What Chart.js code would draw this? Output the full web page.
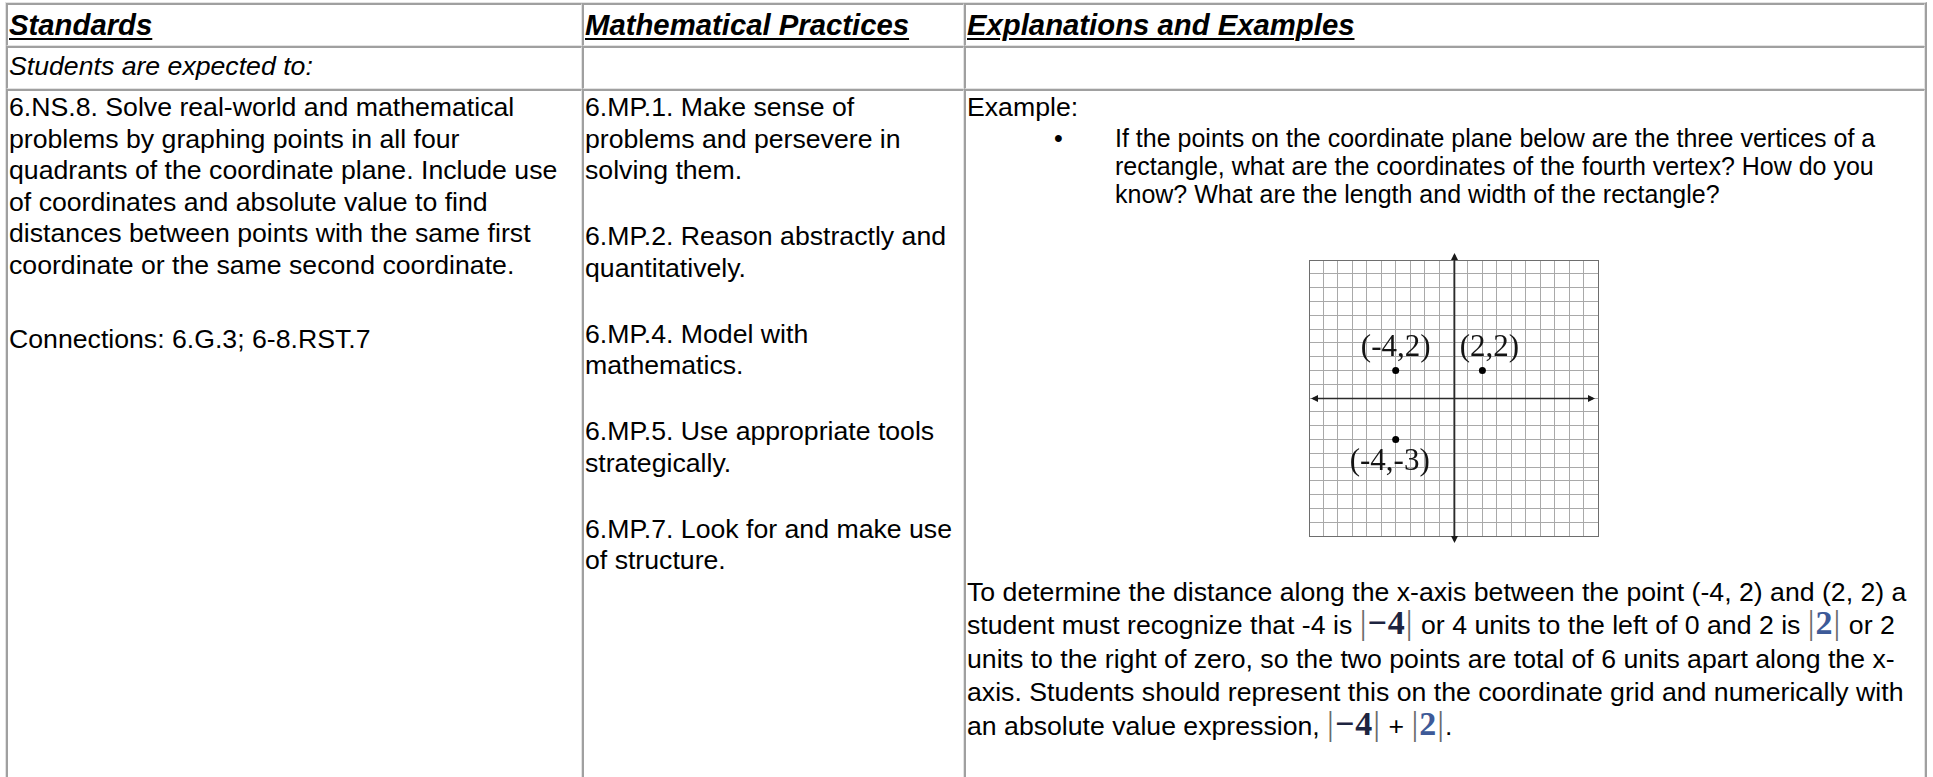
<!DOCTYPE html>
<html>
<head>
<meta charset="utf-8">
<title>6.NS.8 coordinate plane</title>
<script src="https://cdn.jsdelivr.net/npm/chart.js@4.4.1/dist/chart.umd.min.js"></script>
<style>
    body { margin: 0; width: 1933px; height: 777px; overflow: hidden; background: #fff; position: relative;
           font-family: "Liberation Sans", Arial, sans-serif; color: #000; }
    table { position: absolute; left: 5px; top: 2px; width: 1922px; table-layout: fixed;
            border-collapse: separate; border-spacing: 0;
            border-top: 1px solid #e3e3e3; border-left: 1px solid #e3e3e3;
            border-right: 2px solid #a0a0a0; border-bottom: 2px solid #a0a0a0; }
    td { box-sizing: border-box; vertical-align: top; padding: 0 0 0 1px; white-space: nowrap; overflow: hidden;
         border-top: 2px solid #a0a0a0; border-left: 2px solid #a0a0a0;
         border-right: 1px solid #e3e3e3; border-bottom: 1px solid #e3e3e3;
         font-size: 26.67px; line-height: 31.5px; }
    .hd td { height: 43px; padding-top: 3px; font-size: 29.3px; line-height: 33px; font-weight: bold; font-style: italic; }
    .hd span { text-decoration: underline; text-decoration-thickness: 2.3px; text-underline-offset: 3px; }
    .r2 td { height: 43px; padding-top: 3px; font-style: italic; }
    .r3 td { height: 800px; padding-top: 1px; }
    .bullet { position: relative; padding-left: 148px; font-size: 25px; line-height: 28px; }
    .bullet b { position: absolute; left: 87px; top: 0; font-weight: normal; }
    .para { line-height: 33.5px; }
    .abs { font-family: "Liberation Serif", "Times New Roman", serif; font-size: 34px; line-height: 1px;
           color: #6a6a6a; letter-spacing: 1px; }
    .abs em { font-style: normal; font-weight: bold; color: #1d2440; }
    .abs i { font-style: normal; font-weight: bold; color: #3d5a98; }
    #plane { position: absolute; left: 1284px; top: 240px; width: 340px; height: 320px; }
</style>
</head>
<body>
<table>
    <colgroup><col style="width:576px"><col style="width:382px"><col style="width:961px"></colgroup>
    <tr class="hd">
        <td><span>Standards</span></td>
        <td><span>Mathematical Practices</span></td>
        <td><span>Explanations and Examples</span></td>
    </tr>
    <tr class="r2">
        <td>Students are expected to:</td>
        <td></td>
        <td></td>
    </tr>
    <tr class="r3">
        <td>
            <div>6.NS.8. Solve real-world and mathematical</div>
            <div>problems by graphing points in all four</div>
            <div>quadrants of the coordinate plane. Include use</div>
            <div>of coordinates and absolute value to find</div>
            <div>distances between points with the same first</div>
            <div>coordinate or the same second coordinate.</div>
            <div style="height:43px"></div>
            <div>Connections: 6.G.3; 6-8.RST.7</div>
        </td>
        <td>
            <div>6.MP.1. Make sense of</div>
            <div>problems and persevere in</div>
            <div>solving them.</div>
            <div style="height:34.5px"></div>
            <div>6.MP.2. Reason abstractly and</div>
            <div>quantitatively.</div>
            <div style="height:34.5px"></div>
            <div>6.MP.4. Model with</div>
            <div>mathematics.</div>
            <div style="height:34.5px"></div>
            <div>6.MP.5. Use appropriate tools</div>
            <div>strategically.</div>
            <div style="height:34.5px"></div>
            <div>6.MP.7. Look for and make use</div>
            <div>of structure.</div>
        </td>
        <td>
            <div>Example:</div>
            <div class="bullet"><b>&bull;</b>
                If the points on the coordinate plane below are the three vertices of a<br>
                rectangle, what are the coordinates of the fourth vertex? How do you<br>
                know? What are the length and width of the rectangle?
            </div>
            <div style="height:368px"></div>
            <div class="para">
                To determine the distance along the x-axis between the point (-4, 2) and (2, 2) a<br>
                student must recognize that -4 is <span class="abs">|<em>&minus;4</em>|</span> or 4 units to the left of 0 and 2 is <span class="abs">|<i>2</i>|</span> or 2<br>
                units to the right of zero, so the two points are total of 6 units apart along the x-<br>
                axis. Students should represent this on the coordinate grid and numerically with<br>
                an absolute value expression, <span class="abs">|<em>&minus;4</em>|</span> + <span class="abs">|<i>2</i>|</span>.
            </div>
        </td>
    </tr>
</table>

<div id="plane"><canvas id="planeChart" width="340" height="320"></canvas></div>

<script>
    // coordinate plane range
    var xMin = -10, xMax = 10;
    var yMin = -10, yMax = 10;
    var xStep = 1, yStep = 1;

    // the three given vertices
    var pointNames = ['(-4,2)', '(2,2)', '(-4,-3)'];
    var pointX = [-4, 2, -4];
    var pointY = [2, 2, -3];

    // where each name sits relative to its dot (pixels)
    var labelOffsets = [[0, -23], [7, -23], [-6, 22]];

    var points = [];
    for (var i = 0; i < pointX.length; i++) {
        points.push({ x: pointX[i], y: pointY[i] });
    }

    function gridColor(lo, hi) {
        return function (ctx) {
            if (ctx.tick && (ctx.tick.value === lo || ctx.tick.value === hi)) return '#6e6e6e';
            return '#a9a9a9';
        };
    }

    //Draw the two axes with arrow heads
    var axesPlugin = {
        id: 'axes',
        beforeDatasetsDraw: function (chart) {
            var c = chart.ctx, a = chart.chartArea;
            var x0 = Math.round(chart.scales.x.getPixelForValue(0)) + 0.5;
            var y0 = Math.round(chart.scales.y.getPixelForValue(0)) + 0.5;
            c.save();
            c.strokeStyle = '#2b2b2b';
            c.fillStyle = '#1a1a1a';
            c.lineWidth = 1.6;
            c.beginPath();
            c.moveTo(a.left + 4, y0); c.lineTo(a.right - 5, y0);
            c.moveTo(x0, a.top - 5); c.lineTo(x0, a.bottom + 5);
            c.stroke();
            function arrow(tx, ty, dx, dy) {
                c.beginPath();
                c.moveTo(tx, ty);
                c.lineTo(tx - dx * 7 - dy * 3.5, ty - dy * 7 - dx * 3.5);
                c.lineTo(tx - dx * 7 + dy * 3.5, ty - dy * 7 + dx * 3.5);
                c.closePath();
                c.fill();
            }
            arrow(a.left + 2, y0, -1, 0);
            arrow(a.right - 3, y0, 1, 0);
            arrow(x0, a.top - 7, 0, -1);
            arrow(x0, a.bottom + 7, 0, 1);
            c.restore();
        },
        afterDatasetsDraw: function (chart) {
            var c = chart.ctx;
            var meta = chart.getDatasetMeta(0);
            c.save();
            c.font = '31px "Liberation Serif", "Times New Roman", serif';
            c.fillStyle = '#141414';
            c.textAlign = 'center';
            c.textBaseline = 'middle';
            meta.data.forEach(function (el, idx) {
                c.fillText(pointNames[idx], el.x + labelOffsets[idx][0], el.y + labelOffsets[idx][1]);
            });
            c.restore();
        }
    };

    var planeChart = new Chart(document.getElementById('planeChart'), {
        type: 'scatter',
        data: {
            datasets: [{
                label: 'Vertices',
                data: points,
                pointRadius: 3.5,
                pointHoverRadius: 3.5,
                pointBackgroundColor: '#000',
                pointBorderColor: '#000',
                pointBorderWidth: 0
            }]
        },
        options: {
            responsive: false,
            animation: false,
            events: [],
            layout: { padding: { left: 25, right: 26, top: 20, bottom: 24 } },
            plugins: { legend: { display: false }, tooltip: { enabled: false } },
            scales: {
                x: {
                    type: 'linear', min: xMin, max: xMax,
                    ticks: { display: false, stepSize: xStep },
                    grid: { drawTicks: false, lineWidth: 1, color: gridColor(xMin, xMax) },
                    border: { display: true, color: '#6e6e6e', width: 1 }
                },
                y: {
                    type: 'linear', min: yMin, max: yMax,
                    ticks: { display: false, stepSize: yStep },
                    grid: { drawTicks: false, lineWidth: 1, color: gridColor(yMin, yMax) },
                    border: { display: true, color: '#6e6e6e', width: 1 }
                }
            }
        },
        plugins: [axesPlugin]
    });
</script>
</body>
</html>
